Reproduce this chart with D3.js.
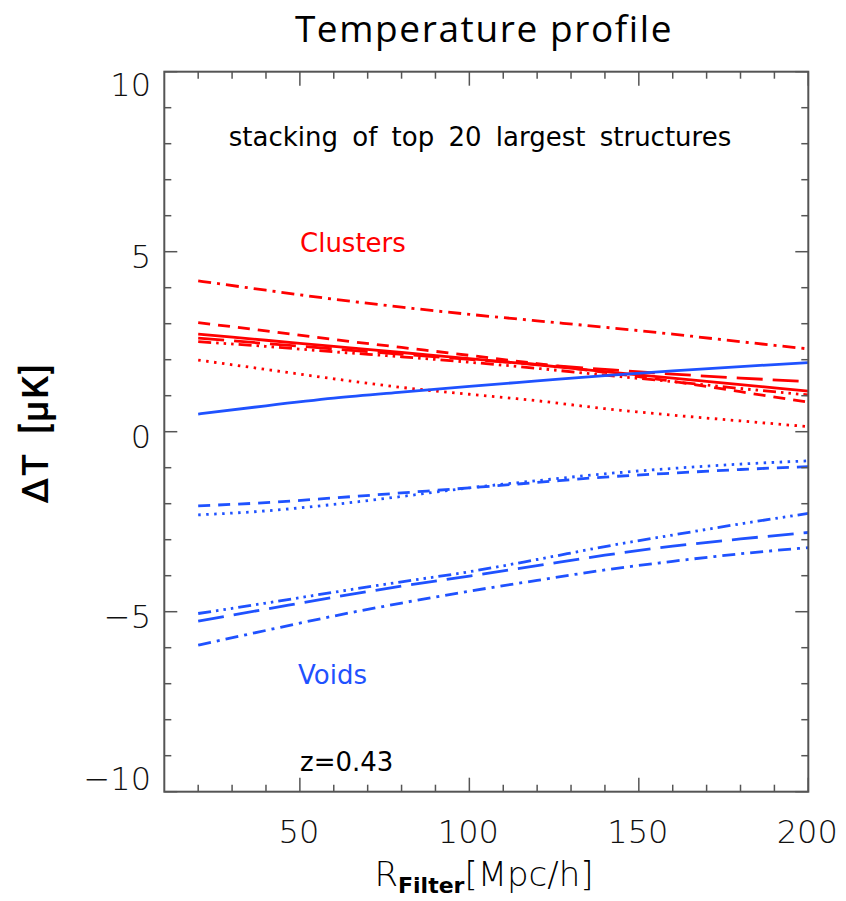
<!DOCTYPE html>
<html>
<head>
<meta charset="utf-8">
<script src="https://cdn.jsdelivr.net/npm/d3@7"></script>
<style>
  html, body { margin: 0; padding: 0; background: #fff; }
  svg { display: block; }
</style>
</head>
<body>
<svg id="chart" width="846" height="901"></svg>
<script>
// Filter radius R [Mpc/h] at which each stacked profile is sampled
const radius = [20, 40, 60, 80, 100, 120, 140, 160, 180, 200];

// Clusters (ΔT in μK)
const clusterSolid     = [2.71, 2.54, 2.37, 2.20, 2.03, 1.86, 1.67, 1.49, 1.31, 1.13];
const clusterDashed    = [3.03, 2.80, 2.56, 2.34, 2.12, 1.89, 1.65, 1.40, 1.11, 0.82];
const clusterDotted    = [1.99, 1.73, 1.47, 1.23, 1.04, 0.86, 0.64, 0.46, 0.30, 0.14];
const clusterDashDot   = [4.19, 3.93, 3.68, 3.46, 3.26, 3.08, 2.90, 2.71, 2.50, 2.30];
const clusterDash3Dot  = [2.50, 2.37, 2.22, 2.08, 1.93, 1.76, 1.57, 1.39, 1.20, 1.02];
const clusterLongDash  = [2.60, 2.45, 2.30, 2.15, 2.01, 1.87, 1.73, 1.60, 1.49, 1.39];

// Voids (ΔT in μK)
const voidSolid        = [0.49, 0.72, 0.93, 1.10, 1.26, 1.41, 1.56, 1.69, 1.81, 1.92];
const voidDashed       = [-2.06, -1.97, -1.84, -1.70, -1.56, -1.41, -1.26, -1.15, -1.05, -0.97];
const voidDotted       = [-2.31, -2.20, -2.02, -1.80, -1.56, -1.36, -1.17, -1.02, -0.90, -0.81];
const voidDashDot      = [-5.93, -5.52, -5.12, -4.76, -4.43, -4.13, -3.84, -3.60, -3.39, -3.22];
const voidDash3Dot     = [-5.05, -4.76, -4.46, -4.17, -3.89, -3.55, -3.19, -2.87, -2.56, -2.27];
const voidLongDash     = [-5.26, -4.93, -4.60, -4.29, -4.01, -3.72, -3.43, -3.18, -2.98, -2.80];

// Axis ticks and labels
const xMajorTicks = [50, 100, 150, 200];
const xTickLabels = ["50", "100", "150", "200"];
const yMajorTicks = [10, 5, 0, -5, -10];
const yTickLabels = ["10", "5", "0", "\u22125", "\u221210"];

const RED = "#ff0000";
const BLUE = "#1f52ff";

// Dash styles for the line families
const dashes = {
  solid: null,
  dashed: "12,8",
  dotted: "2.5,5.5",
  dashDot: "13,6,3,6",
  dash3Dot: "13,5,2.5,5,2.5,5,2.5,5",
  longDash: "26,10"
};

const series = [
  { values: clusterDashDot,  color: RED,  dash: dashes.dashDot },
  { values: clusterDashed,   color: RED,  dash: dashes.dashed },
  { values: clusterSolid,    color: RED,  dash: dashes.solid },
  { values: clusterLongDash, color: RED,  dash: dashes.longDash },
  { values: clusterDash3Dot, color: RED,  dash: dashes.dash3Dot },
  { values: clusterDotted,   color: RED,  dash: dashes.dotted },
  { values: voidSolid,       color: BLUE, dash: dashes.solid },
  { values: voidDashed,      color: BLUE, dash: dashes.dashed },
  { values: voidDotted,      color: BLUE, dash: dashes.dotted },
  { values: voidDash3Dot,    color: BLUE, dash: dashes.dash3Dot },
  { values: voidLongDash,    color: BLUE, dash: dashes.longDash },
  { values: voidDashDot,     color: BLUE, dash: dashes.dashDot }
];

const svg = d3.select("#chart");
const plotLeft = 164.3, plotRight = 808.3, plotTop = 71.7, plotBottom = 791.7;

const x = d3.scaleLinear().domain([10, 200]).range([plotLeft, plotRight]);
const y = d3.scaleLinear().domain([-10, 10]).range([plotBottom, plotTop]);

// Title
svg.append("text")
  .attr("x", 484).attr("y", 42)
  .attr("text-anchor", "middle")
  .attr("font-family", "'Open Sans', Lato, sans-serif")
  .attr("font-size", 37)
  .attr("letter-spacing", 1.6)
  .attr("fill", "#000")
  .text("Temperature profile");

// Curves
const line = d3.line()
  .x((d, i) => x(radius[i]))
  .y(d => y(d))
  .curve(d3.curveMonotoneX);

svg.append("g").selectAll("path")
  .data(series)
  .join("path")
  .attr("d", d => line(d.values))
  .attr("fill", "none")
  .attr("stroke", d => d.color)
  .attr("stroke-width", 2.8)
  .attr("stroke-dasharray", d => d.dash)
  .attr("stroke-linecap", "butt");

// Frame
const axisColor = "#555";
svg.append("rect")
  .attr("x", plotLeft).attr("y", plotTop)
  .attr("width", plotRight - plotLeft).attr("height", plotBottom - plotTop)
  .attr("fill", "none")
  .attr("stroke", axisColor)
  .attr("stroke-width", 2);

// Ticks on all four sides
const ticks = svg.append("g").attr("stroke", axisColor).attr("stroke-width", 1.5);
const xMinor = d3.range(20, 200, 10).filter(v => v % 50 !== 0);
const yMinor = d3.range(-9, 10, 1).filter(v => v % 5 !== 0);

function xTick(v, len) {
  ticks.append("line").attr("x1", x(v)).attr("x2", x(v)).attr("y1", plotBottom).attr("y2", plotBottom - len);
  ticks.append("line").attr("x1", x(v)).attr("x2", x(v)).attr("y1", plotTop).attr("y2", plotTop + len);
}
function yTick(v, len) {
  ticks.append("line").attr("y1", y(v)).attr("y2", y(v)).attr("x1", plotLeft).attr("x2", plotLeft + len);
  ticks.append("line").attr("y1", y(v)).attr("y2", y(v)).attr("x1", plotRight).attr("x2", plotRight - len);
}
xMinor.forEach(v => xTick(v, 7));
xMajorTicks.forEach(v => xTick(v, 14));
yMinor.forEach(v => yTick(v, 7));
yMajorTicks.forEach(v => yTick(v, 13));

// Tick labels
const tickFont = "'DejaVu Sans', sans-serif";
svg.append("g").selectAll("text")
  .data(xMajorTicks)
  .join("text")
  .attr("x", d => x(d) - 1)
  .attr("y", 832)
  .attr("dominant-baseline", "central")
  .attr("text-anchor", "middle")
  .attr("font-family", tickFont)
  .attr("font-weight", 200)
  .attr("font-size", 32)
  .attr("fill", "#111")
  .text((d, i) => xTickLabels[i]);

svg.append("g").selectAll("text")
  .data(yMajorTicks)
  .join("text")
  .attr("x", 151)
  .attr("y", d => Math.min(Math.max(y(d) + 5, y(10) + 13), y(-10) - 13))
  .attr("dominant-baseline", "central")
  .attr("text-anchor", "end")
  .attr("font-family", tickFont)
  .attr("font-weight", 200)
  .attr("font-size", 32)
  .attr("fill", "#111")
  .text((d, i) => yTickLabels[i]);

// Axis titles
svg.append("text")
  .attr("transform", "translate(48,433) rotate(-90)")
  .attr("text-anchor", "middle")
  .attr("font-family", "Roboto, 'DejaVu Sans', sans-serif")
  .attr("font-weight", 500)
  .attr("font-size", 36)
  .attr("letter-spacing", 2)
  .attr("word-spacing", 8)
  .attr("fill", "#000")
  .text("\u0394T [\u03bcK]");

const xt = svg.append("text")
  .attr("x", 484).attr("y", 886)
  .attr("text-anchor", "middle")
  .attr("font-family", tickFont)
  .attr("font-size", 34)
  .attr("font-weight", 200)
  .attr("fill", "#000");
xt.append("tspan").text("R");
xt.append("tspan").attr("font-size", 22).attr("font-weight", "bold").attr("dy", 7).text("Filter");
xt.append("tspan").attr("dy", -7).text("[Mpc/h]");

// Annotations inside the frame
const noteFont = "'DejaVu Sans', sans-serif";
svg.append("text")
  .attr("x", 480).attr("y", 137)
  .attr("dominant-baseline", "central")
  .attr("text-anchor", "middle")
  .attr("font-family", noteFont)
  .attr("font-size", 26)
  .attr("word-spacing", 6)
  .attr("fill", "#000")
  .text("stacking of top 20 largest structures");

svg.append("text")
  .attr("x", 300).attr("y", 243)
  .attr("dominant-baseline", "central")
  .attr("font-family", noteFont)
  .attr("font-size", 26)
  .attr("fill", RED)
  .text("Clusters");

svg.append("text")
  .attr("x", 298).attr("y", 675)
  .attr("dominant-baseline", "central")
  .attr("font-family", noteFont)
  .attr("font-size", 26)
  .attr("fill", BLUE)
  .text("Voids");

svg.append("text")
  .attr("x", 300).attr("y", 762)
  .attr("dominant-baseline", "central")
  .attr("font-family", noteFont)
  .attr("font-size", 26)
  .attr("fill", "#000")
  .text("z=0.43");
</script>
</body>
</html>
